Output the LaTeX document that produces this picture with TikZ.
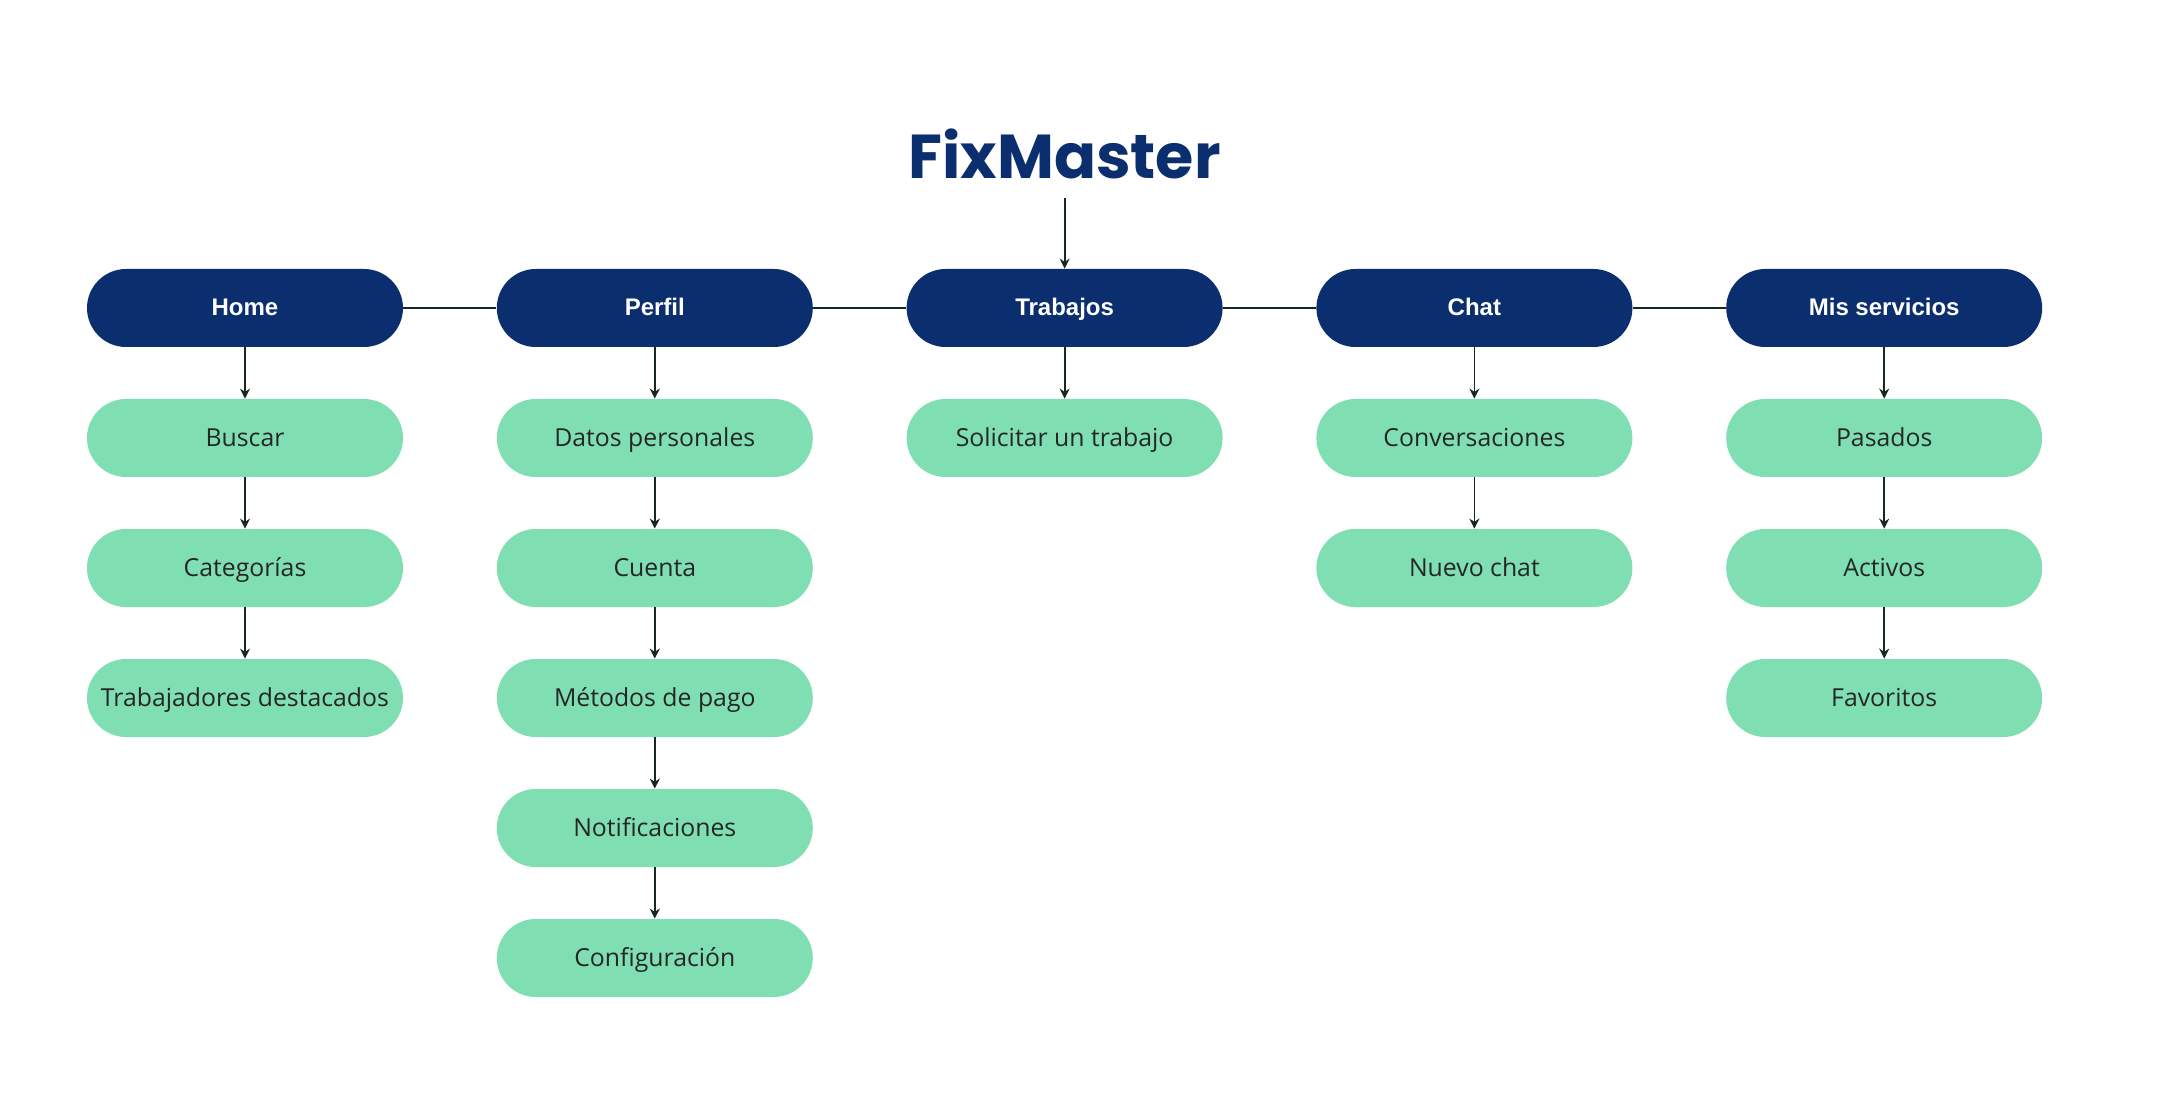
\documentclass[tikz,border=0pt]{standalone}
\usepackage{fontspec}
\setmainfont{Liberation Sans}
\newfontfamily\brandfont{Poppins}
\newfontfamily\itemfont{Open Sans}
\usetikzlibrary{positioning, arrows.meta}
\definecolor{navy}{HTML}{0B2F6E}
\definecolor{mint}{HTML}{7FDFB3}
\definecolor{lineclr}{HTML}{142A1E}

\begin{document}
\begin{tikzpicture}[
	node distance=25.6pt and 46.5pt,
	header/.style={rectangle, rounded corners=19.5pt, fill=navy, text=white, minimum width=158pt, minimum height=39pt, text height=9pt, text depth=1pt, font=\bfseries\fontsize{12}{14}\selectfont},
	item/.style={rectangle, rounded corners=19.5pt, fill=mint, text=black!85, minimum width=158pt, minimum height=39pt, text height=9pt, text depth=0.5pt, font=\itemfont\fontsize{12.4}{14}\selectfont},
	brand/.style={inner xsep=0pt, inner ysep=9pt, text=navy, font=\brandfont\bfseries\fontsize{31}{34}\selectfont},
	arrow/.style={-{Stealth[length=5pt, width=5pt]}, line width=0.9pt, draw=lineclr},
	link/.style={line width=0.9pt, draw=lineclr}
]
	\useasboundingbox (-122.5pt,154pt) rectangle (959.5pt,-397pt);

	\node[header] (home) at (0,0) {Home};
	\node[header, right=of home] (perfil) {Perfil};
	\node[header, right=of perfil] (trabajos) {Trabajos};
	\node[header, right=of trabajos] (chat) {Chat};
	\node[header, right=of chat] (servicios) {Mis servicios};

	\node[brand, above=35.5pt of trabajos] (fixmaster) {FixMaster};

	\node[item, below=of home] (buscar) {Buscar};
	\node[item, below=of buscar] (categorias) {Categorías};
	\node[item, below=of categorias] (destacados) {Trabajadores destacados};

	\node[item, below=of perfil] (datos) {Datos personales};
	\node[item, below=of datos] (cuenta) {Cuenta};
	\node[item, below=of cuenta] (metodos) {Métodos de pago};
	\node[item, below=of metodos] (notif) {Notificaciones};
	\node[item, below=of notif] (config) {Configuración};

	\node[item, below=of trabajos] (solicitar) {Solicitar un trabajo};

	\node[item, below=of chat] (conv) {Conversaciones};
	\node[item, below=of conv] (nuevo) {Nuevo chat};

	\node[item, below=of servicios] (pasados) {Pasados};
	\node[item, below=of pasados] (activos) {Activos};
	\node[item, below=of activos] (favoritos) {Favoritos};

	\draw[arrow] (fixmaster) -- (trabajos);
	\draw[link] (home) -- (perfil);
	\draw[link] (perfil) -- (trabajos);
	\draw[link] (trabajos) -- (chat);
	\draw[link] (chat) -- (servicios);

	\draw[arrow] (home) -- (buscar);
	\draw[arrow] (buscar) -- (categorias);
	\draw[arrow] (categorias) -- (destacados);
	\draw[arrow] (perfil) -- (datos);
	\draw[arrow] (datos) -- (cuenta);
	\draw[arrow] (cuenta) -- (metodos);
	\draw[arrow] (metodos) -- (notif);
	\draw[arrow] (notif) -- (config);
	\draw[arrow] (trabajos) -- (solicitar);
	\draw[arrow] (chat) -- (conv);
	\draw[arrow] (conv) -- (nuevo);
	\draw[arrow] (servicios) -- (pasados);
	\draw[arrow] (pasados) -- (activos);
	\draw[arrow] (activos) -- (favoritos);
\end{tikzpicture}
\end{document}
